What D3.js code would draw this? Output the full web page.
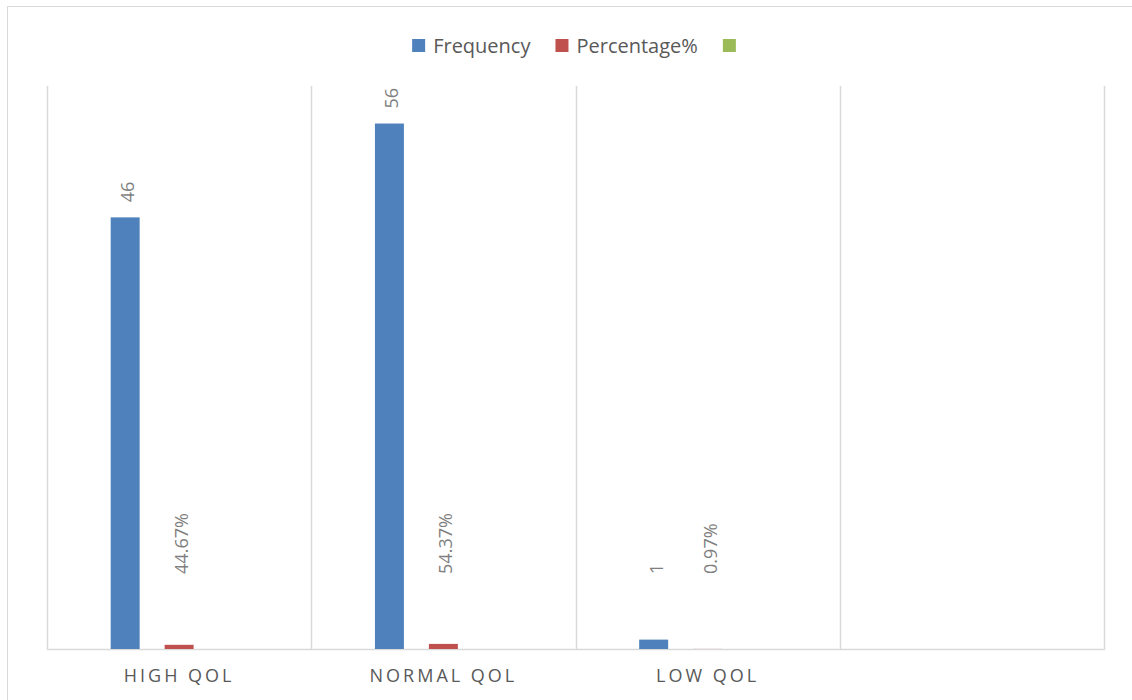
<!DOCTYPE html>
<html>
<head>
<meta charset="utf-8">
<script src="https://cdn.jsdelivr.net/npm/d3@7"></script>
<style>
  html, body { margin: 0; padding: 0; background: #ffffff; }
  svg { display: block; font-family: "Open Sans", "Liberation Sans", sans-serif; }
</style>
</head>
<body>
<svg id="chart" width="1132" height="700"></svg>
<script>
// Quality-of-life groups and their counts / shares
const categories = ["HIGH QOL", "NORMAL QOL", "LOW QOL", ""];
const seriesNames = ["Frequency", "Percentage%", ""];
const frequency = [46, 56, 1];
const percentage = [0.4467, 0.5437, 0.0097];
const thirdSeries = [];
const seriesColors = ["#4f81bd", "#c0504d", "#9bbb59"];

const seriesValues = [frequency, percentage, thirdSeries];
const seriesFormat = [d3.format("d"), d3.format(".2%"), d3.format("d")];

const svg = d3.select("#chart");
const W = 1132, H = 700;
const plot = { left: 47, right: 1104, top: 86, bottom: 649 };

// chart-area frame
svg.append("rect")
  .attr("x", 7.5).attr("y", 6.5)
  .attr("width", W + 10).attr("height", H + 10)
  .attr("fill", "#ffffff").attr("stroke", "#d9d9d9").attr("stroke-width", 1);

const x0 = d3.scaleBand().domain(categories).range([plot.left, plot.right]).padding(0);
const x1 = d3.scaleBand().domain(seriesNames.map((d, i) => i))
  .range([0, x0.bandwidth()])
  .paddingInner(0.463).paddingOuter(1.18);
const y = d3.scaleLinear().domain([0, 60]).range([plot.bottom, plot.top]);

// vertical gridlines between categories
const gridX = categories.map(c => x0(c)).concat([plot.right]);
svg.append("g").selectAll("line").data(gridX).join("line")
  .attr("x1", d => Math.round(d) + 0.5).attr("x2", d => Math.round(d) + 0.5)
  .attr("y1", plot.top).attr("y2", plot.bottom)
  .attr("stroke", "#d9d9d9").attr("stroke-width", 1.5);

// category axis
const xAxis = svg.append("g")
  .attr("transform", `translate(0,${plot.bottom})`)
  .call(d3.axisBottom(x0).tickSize(0).tickPadding(20));
xAxis.select(".domain").attr("stroke", "#d9d9d9").attr("stroke-width", 1.5)
  .attr("d", `M${plot.left},0.5H${plot.right + 1}`);
xAxis.selectAll("text")
  .attr("fill", "#595959").attr("font-size", 18)
  .attr("letter-spacing", "3px")
  .attr("font-family", "'Open Sans', sans-serif")
  .attr("dy", "0.71em");

// bars
const labelFloor = y(8);
seriesValues.forEach((vals, si) => {
  const g = svg.append("g");
  const rows = vals.map((v, ci) => ({ v, c: categories[ci] }));
  g.selectAll("rect").data(rows).join("rect")
    .attr("x", d => x0(d.c) + x1(si))
    .attr("width", x1.bandwidth())
    .attr("y", d => y(d.v))
    .attr("height", d => y(0) - y(d.v))
    .attr("fill", seriesColors[si]);

  // rotated value labels above each bar
  g.selectAll("text").data(rows).join("text")
    .attr("transform", d => {
      const cx = x0(d.c) + x1(si) + x1.bandwidth() / 2 + 2;
      const by = Math.min(y(d.v) - 15, labelFloor);
      return `translate(${cx},${by}) rotate(-90)`;
    })
    .attr("text-anchor", "start")
    .attr("dominant-baseline", "central")
    .attr("fill", "#7f7f7f")
    .attr("font-size", 18)
    .text(d => seriesFormat[si](d.v));
});

// legend
const legend = svg.append("g").attr("transform", "translate(0,46)");
const items = legend.selectAll("g").data(seriesNames).join("g");
items.append("rect")
  .attr("width", 13).attr("height", 13).attr("y", -7)
  .attr("fill", (d, i) => seriesColors[i]);
items.append("text")
  .attr("x", 21).attr("dy", "0.36em")
  .attr("fill", "#595959").attr("font-size", 20)
  .text(d => d);
let cursor = 0;
const widths = [];
items.each(function (d) {
  const t = d3.select(this).select("text").node().getComputedTextLength();
  const w = 13 + (d ? 8 + t : 0);
  widths.push(w);
});
const gap = 25;
const total = d3.sum(widths) + gap * (widths.length - 1);
cursor = 574 - total / 2;
items.attr("transform", (d, i) => {
  const tx = cursor;
  cursor += widths[i] + gap;
  return `translate(${tx},0)`;
});
</script>
</body>
</html>
